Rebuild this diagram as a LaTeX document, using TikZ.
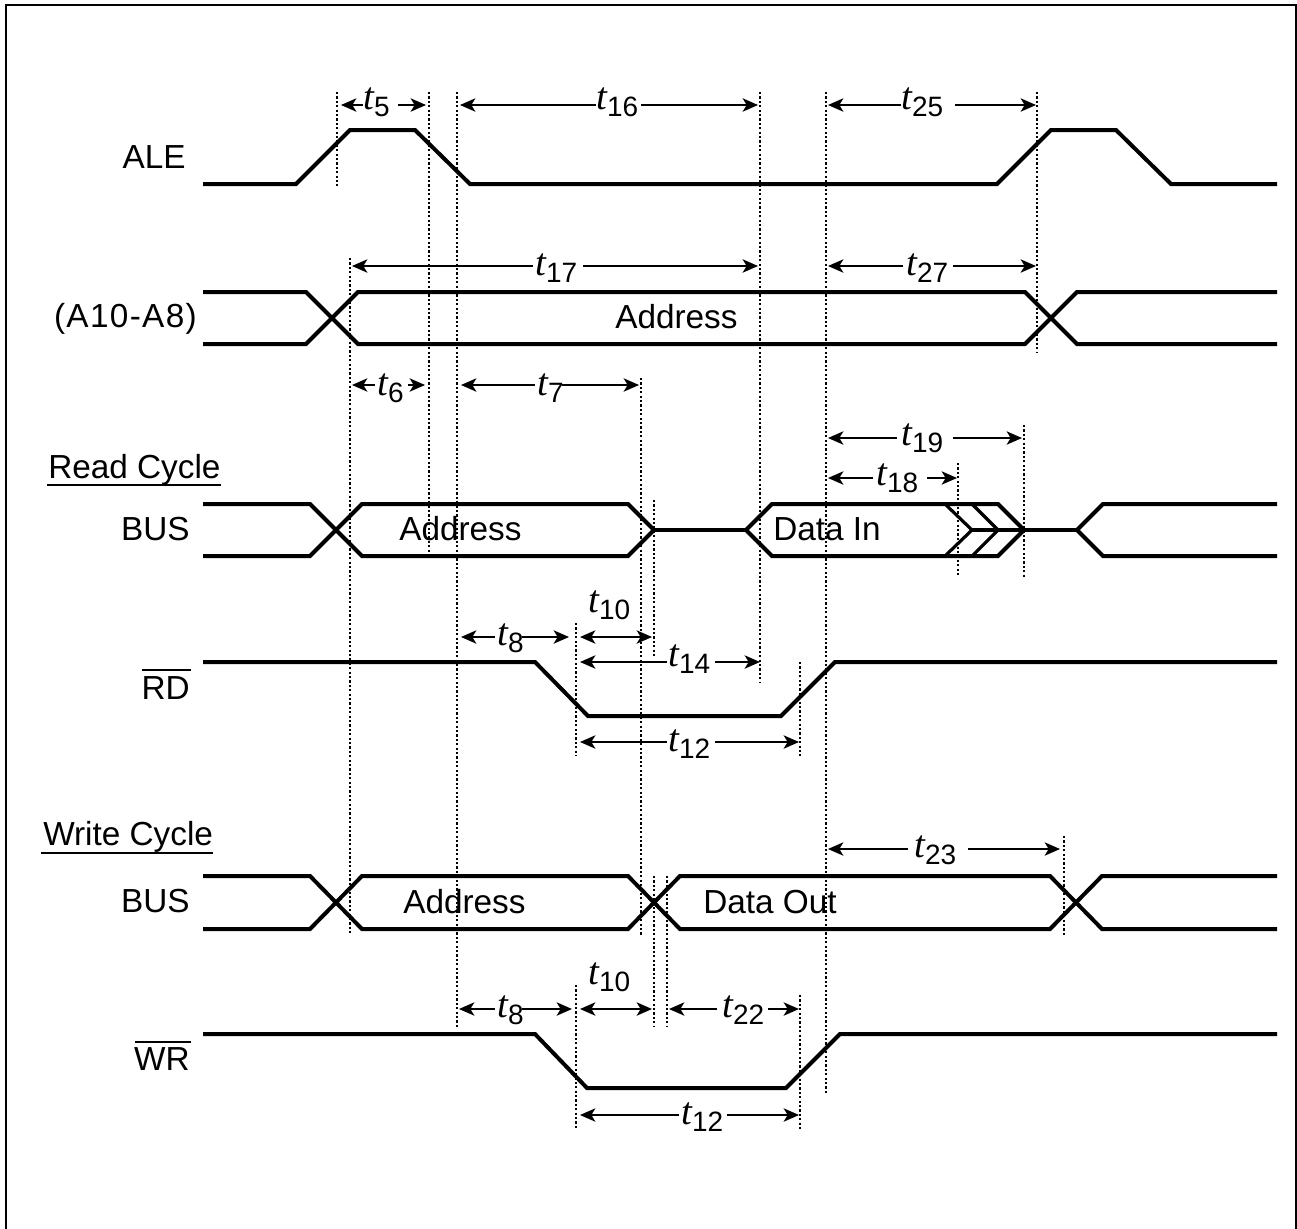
\documentclass[tikz,border=0pt]{standalone}
\usepackage{fontspec}
\setmainfont{Liberation Sans}
\newfontfamily\tfont{Liberation Serif}
\usetikzlibrary{arrows.meta}
\newcommand{\tm}[1]{{\fontsize{29}{29}\tfont\itshape t}\raisebox{-5.6pt}{\fontsize{21}{21}\selectfont #1}}
\tikzset{
  x=0.75pt,y=-0.75pt,
  signal/.style={line width=3pt,line join=miter,miter limit=4},
  signalthin/.style={line width=2.4pt},
  dotthick/.style={line width=2.1pt,dash pattern=on 1.7pt off 1.6pt},
  dotthin/.style={line width=1.5pt,dash pattern=on 1.7pt off 1.6pt},
  rulebar/.style={line width=1.7pt},
  dimline/.style={line width=1.5pt,-{Stealth[length=11.5pt,width=10pt,inset=3pt]}},
  dimboth/.style={line width=1.5pt,{Stealth[length=11.5pt,width=10pt,inset=3pt]}-{Stealth[length=11.5pt,width=10pt,inset=3pt]}},
  lbl/.style={anchor=base east,inner sep=0pt,font=\fontsize{25}{25}\selectfont},
  txt/.style={anchor=base west,inner sep=0pt,font=\fontsize{25}{25}\selectfont},
  tlab/.style={anchor=base west,inner sep=0pt}
}
\newcommand{\dimarrow}[3]{\draw[dimline] (#3,#1) -- (#2,#1);}
\newcommand{\vthick}[3]{\draw[dotthick] (#1,#2) -- (#1,#3);}
\newcommand{\vthin}[3]{\draw[dotthin] (#1,#2) -- (#1,#3);}
\begin{document}
\begin{tikzpicture}
\useasboundingbox (0,0) rectangle (1297,1229);
\draw[rulebar] (6,1229) -- (6,5) -- (1296,5) -- (1296,1229);
% dotted verticals
\vthin{337}{92}{186}
\vthick{429}{92}{556}
\vthick{457}{92}{1027}
\vthin{350}{258}{935}
\vthick{760}{92}{682}
\vthin{826}{92}{1094}
\vthick{1037}{92}{352}
\vthin{641}{378}{935}
\vthick{654}{500}{656}
\vthick{958}{463}{577}
\vthick{1024}{425}{577}
\vthick{576}{623}{756}
\vthick{800}{662}{756}
\vthick{654}{876}{1027}
\vthick{667}{876}{1027}
\vthick{576}{985}{1129}
\vthick{800}{995}{1129}
\vthick{1064}{836}{935}
% signals
\draw[signal] (203,184)--(296,184)--(350,130)--(415,130)--(470,184)--(997,184)--(1051,130)--(1116,130)--(1171,184)--(1277,184);
\draw[signal] (203,292)--(306,292)--(358,344)--(1025,344)--(1077,292)--(1277,292);
\draw[signal] (203,344)--(306,344)--(358,292)--(1025,292)--(1077,344)--(1277,344);
\draw[signal] (203,504)--(310,504)--(362,556)--(628,556)--(654,530)--(628,504)--(362,504)--(310,556)--(203,556);
\draw[signal] (654,530)--(746,530);
\draw[signal] (972,530)--(1077,530);
\draw[signal] (1024,530)--(998,504)--(772,504)--(746,530)--(772,556)--(998,556)--(1024,530);
\draw[signalthin] (945,504)--(972,530)--(945,556);
\draw[signalthin] (972,504)--(998,530)--(972,556);
\draw[signal] (1277,504)--(1103,504)--(1077,530)--(1103,556)--(1277,556);
\draw[signal] (203,662)--(535,662)--(588,716)--(781,716)--(835,662)--(1277,662);
\draw[signal] (203,876)--(310,876)--(362,929)--(628,929)--(680,876)--(1050,876)--(1102,929)--(1277,929);
\draw[signal] (203,929)--(310,929)--(362,876)--(628,876)--(680,929)--(1050,929)--(1102,876)--(1277,876);
\draw[signal] (203,1034)--(535,1034)--(587,1088)--(786,1088)--(840,1034)--(1277,1034);
% dimension arrows
\dimarrow{105}{341}{363}\dimarrow{105}{426}{398}
\dimarrow{105}{460}{596}\dimarrow{105}{758}{641}
\dimarrow{105}{828}{901}\dimarrow{105}{1036}{955}
\dimarrow{266}{352}{533}\dimarrow{266}{758}{583}
\dimarrow{266}{828}{903}\dimarrow{266}{1036}{953}
\dimarrow{385}{352}{375}\dimarrow{385}{425}{408}
\dimarrow{385}{461}{535}\dimarrow{385}{639}{562}
\dimarrow{438}{828}{897}\dimarrow{438}{1022}{953}
\dimarrow{478}{828}{873}\dimarrow{478}{957}{927}
\dimarrow{637}{461}{495}\dimarrow{637}{569}{522}
\draw[dimboth] (580,637)--(652,637);
\dimarrow{662}{580}{667}\dimarrow{662}{760}{715}
\dimarrow{742}{580}{667}\dimarrow{742}{799}{715}
\dimarrow{849}{828}{908}\dimarrow{849}{1060}{968}
\dimarrow{1009}{459}{495}\dimarrow{1009}{572}{522}
\draw[dimboth] (580,1009)--(652,1009);
\dimarrow{1009}{669}{717}\dimarrow{1009}{799}{768}
\dimarrow{1115}{580}{679}\dimarrow{1115}{799}{727}
% timing labels
\node[tlab] (t5) at (363,109) {\tm{5}};
\node[tlab] (t16) at (596,109) {\tm{16}};
\node[tlab] (t25) at (901,109) {\tm{25}};
\node[tlab] (t17) at (535,275) {\tm{17}};
\node[tlab] (t27) at (906,275) {\tm{27}};
\node[tlab] (t6) at (377,395) {\tm{6}};
\node[tlab] (t7) at (537,395) {\tm{7}};
\node[tlab] (t19) at (901,445) {\tm{19}};
\node[tlab] (t18) at (876,485) {\tm{18}};
\node[tlab] (t8a) at (497,645) {\tm{8}};
\node[tlab] (t10a) at (588,612) {\tm{10}};
\node[tlab] (t14) at (668,666) {\tm{14}};
\node[tlab] (t12a) at (668,751) {\tm{12}};
\node[tlab] (t23) at (914,857) {\tm{23}};
\node[tlab] (t8b) at (497,1017) {\tm{8}};
\node[tlab] (t10b) at (588,984) {\tm{10}};
\node[tlab] (t22) at (722,1017) {\tm{22}};
\node[tlab] (t12b) at (681,1124) {\tm{12}};
% signal labels
\node[lbl] (ale) at (186,168) {ALE};
\node[lbl] (addrbus) at (197,327) {\addfontfeatures{LetterSpace=4}(A10-A8)};
\node[txt] (readc) at (48,478.5) {Read Cycle};
\draw[rulebar] (47,485) -- (221,485);
\node[lbl] (bus1) at (190,540) {BUS};
\node[lbl] (rd) at (190,699) {RD};
\draw[rulebar] (142,670) -- (191,670);
\node[txt] (writec) at (43,845) {Write Cycle};
\draw[rulebar] (41,853) -- (213,853);
\node[lbl] (bus2) at (190,912) {BUS};
\node[lbl] (wr) at (190,1070) {WR};
\draw[rulebar] (135,1042) -- (191,1042);
\node[txt] (a1) at (615,328) {Address};
\node[txt] (a2) at (399,540) {Address};
\node[txt] (din) at (773,540) {Data In};
\node[txt] (a3) at (403,913) {Address};
\node[txt] (dout) at (703,913) {Data Out};
\end{tikzpicture}
\end{document}
